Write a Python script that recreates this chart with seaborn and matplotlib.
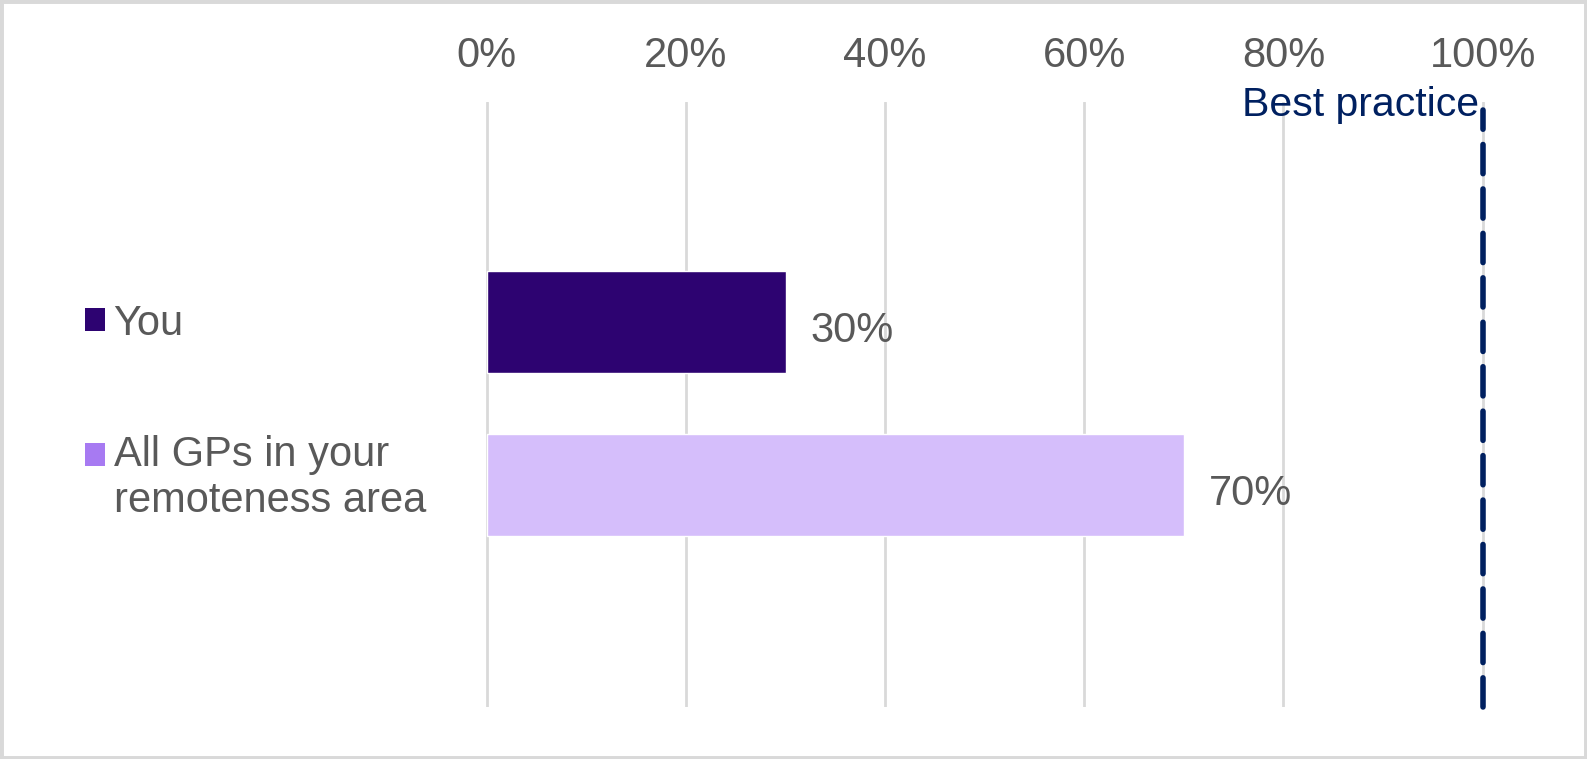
import matplotlib
matplotlib.use("Agg")
import matplotlib.pyplot as plt
from matplotlib.patches import Patch, Rectangle
from matplotlib.legend_handler import HandlerPatch
from matplotlib.ticker import PercentFormatter
import seaborn as sns
import pandas as pd

# data
groups = ["You", "All GPs in your\nremoteness area"]
values = [0.30, 0.70]
value_labels = ["30%", "70%"]
bar_colors = ["#2D0371", "#D5BEFB"]
legend_colors = ["#2D0371", "#A77AF2"]
best_practice = 1.0
ticks = [0, 0.2, 0.4, 0.6, 0.8, 1.0]

df = pd.DataFrame({"group": groups, "value": values})

sns.set_style("white")
plt.rcParams["font.family"] = ["Liberation Sans", "DejaVu Sans"]

fig = plt.figure(figsize=(15.87, 7.59), dpi=100)
ax = fig.add_axes([0.3055, 0.0685, 0.630, 0.797])

sns.barplot(data=df, x="value", y="group", hue="group", palette=bar_colors,
            orient="h", width=0.626, legend=False, ax=ax, saturation=1)

for cont, lab in zip(ax.containers, value_labels):
    anns = ax.bar_label(cont, labels=[lab], padding=18, fontsize=30, color="#595959")
    for a in anns:
        a.xyann = (18, -6)  # Excel puts the labels a bit below the bar centre

ax.set_xlim(-0.002, 1.002)
ax.set_ylim(2.36, -1.35)
ax.set_xticks(ticks)
ax.xaxis.set_major_formatter(PercentFormatter(1.0, decimals=0))
ax.xaxis.tick_top()
ax.tick_params(axis="x", length=0, pad=19, labelsize=30, labelcolor="#595959")
ax.set_yticks([])
ax.set_xlabel("")
ax.set_ylabel("")
ax.grid(axis="x", color="#D9D9D9", linewidth=2)
ax.set_axisbelow(True)
for s in ax.spines.values():
    s.set_visible(False)

# best practice line
ax.axvline(best_practice, ymin=0, ymax=0.987, color="#002060", linewidth=4,
           linestyle=(0, (5.25, 2.75)), dash_capstyle="round", clip_on=False)
ax.text(best_practice - 0.004, 0.977, "Best practice", transform=ax.get_xaxis_transform(),
        ha="right", va="baseline", fontsize=29.5, color="#002060")


# square next to the first line of a two-line label
def top_square(legend, orig_handle, xdescent, ydescent, width, height, fontsize):
    return Rectangle((-xdescent, -ydescent + 0.58 * fontsize), width, height)


# legend
handles = [Patch(facecolor=c, edgecolor="none") for c in legend_colors]
fig.legend(handles, groups, loc="upper left", bbox_to_anchor=(0.0537, 0.6),
           frameon=False, fontsize=30, labelcolor="#595959",
           handlelength=0.48, handleheight=0.48, handletextpad=0.2,
           labelspacing=2.2, borderpad=0, borderaxespad=0,
           handler_map={handles[1]: HandlerPatch(patch_func=top_square)})

# outer border
fig.patches.append(Rectangle((0, 0), 1, 1, transform=fig.transFigure, fill=False,
                             edgecolor="#D9D9D9", linewidth=5))

fig.savefig("out.png", dpi=100)
